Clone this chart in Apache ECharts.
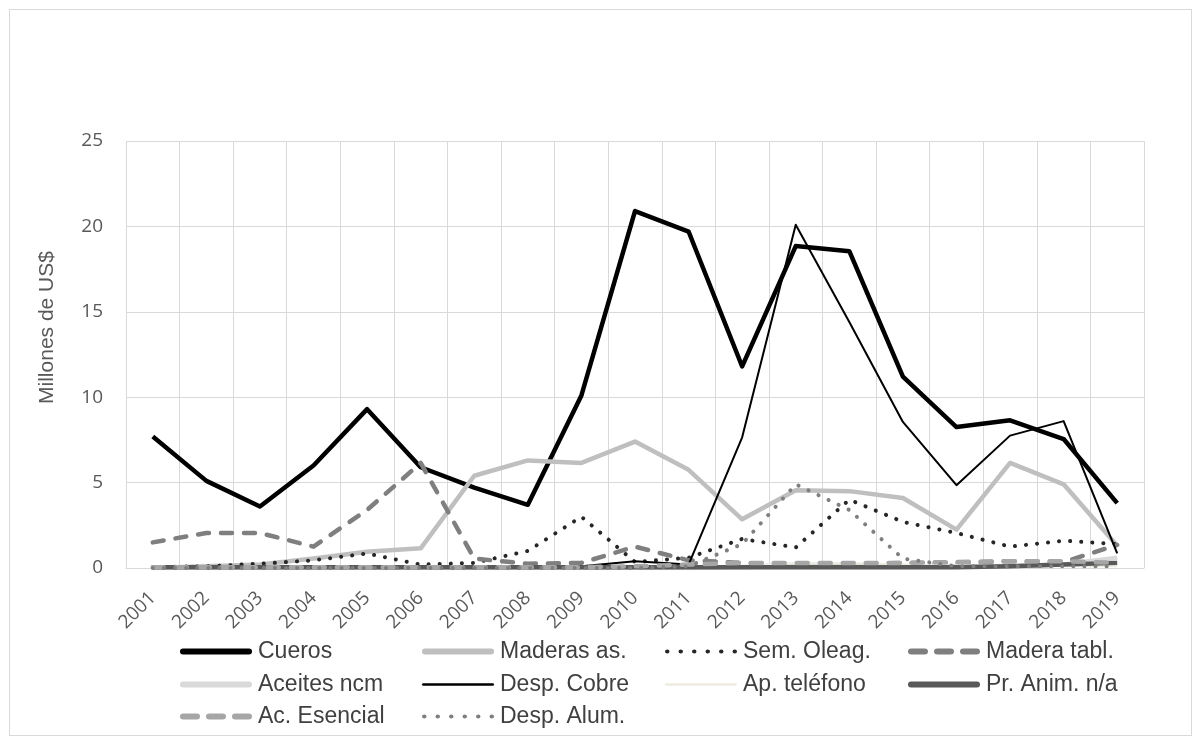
<!DOCTYPE html>
<html>
<head>
<meta charset="utf-8">
<script src="https://cdn.jsdelivr.net/npm/echarts@6/dist/echarts.min.js"></script>
<style>
  html, body { margin: 0; padding: 0; background: #ffffff; }
  #frame { position: absolute; left: 9px; top: 9px; width: 1181px; height: 725px; border: 1px solid #d9d9d9; }
  #chart { position: absolute; left: 0; top: 0; width: 1201px; height: 744px; }
</style>
</head>
<body>
<div id="frame"></div>
<div id="chart"></div>
<script>
// Years on the category axis
const years = ['2001','2002','2003','2004','2005','2006','2007','2008','2009','2010',
               '2011','2012','2013','2014','2015','2016','2017','2018','2019'];

// Export values per product, millions of US$
const cueros      = [7.7, 5.1, 3.6, 6.0, 9.3, 5.9, 4.7, 3.7, 10.1, 20.9, 19.7, 11.8, 18.85, 18.55, 11.2, 8.25, 8.65, 7.55, 3.8];
const maderasAs   = [0.0, 0.1, 0.2, 0.55, 0.95, 1.15, 5.4, 6.3, 6.15, 7.4, 5.75, 2.85, 4.55, 4.5, 4.1, 2.25, 6.15, 4.9, 1.3];
const semOleag    = [0.05, 0.1, 0.25, 0.45, 0.85, 0.2, 0.3, 1.0, 3.0, 0.35, 0.6, 1.7, 1.2, 4.0, 2.7, 2.05, 1.25, 1.6, 1.4];
const maderaTabl  = [1.5, 2.05, 2.05, 1.25, 3.4, 6.15, 0.55, 0.25, 0.3, 1.25, 0.45, 0.3, 0.2, 0.2, 0.3, 0.3, 0.4, 0.35, 1.35];
const aceitesNcm  = [0.0, 0.0, 0.0, 0.0, 0.0, 0.0, 0.0, 0.0, 0.0, 0.0, 0.0, 0.05, 0.1, 0.1, 0.1, 0.1, 0.1, 0.2, 0.6];
const despCobre   = [0.0, 0.0, 0.0, 0.0, 0.0, 0.0, 0.0, 0.0, 0.1, 0.4, 0.2, 7.65, 20.1, 14.4, 8.55, 4.85, 7.75, 8.6, 0.85];
const apTelefono  = [0.0, 0.0, 0.0, 0.0, 0.0, 0.0, 0.0, 0.0, 0.0, 0.0, 0.0, 0.15, 0.3, 0.3, 0.2, 0.1, 0.1, 0.1, 0.1];
const prAnim      = [0.05, 0.05, 0.05, 0.05, 0.05, 0.05, 0.05, 0.05, 0.05, 0.05, 0.05, 0.05, 0.05, 0.05, 0.05, 0.05, 0.1, 0.2, 0.3];
const acEsencial  = [0.05, 0.05, 0.05, 0.05, 0.05, 0.05, 0.05, 0.05, 0.05, 0.1, 0.2, 0.3, 0.3, 0.3, 0.3, 0.35, 0.4, 0.4, 0.3];
const despAlum    = [0.0, 0.0, 0.0, 0.0, 0.0, 0.0, 0.0, 0.0, 0.0, 0.0, 0.1, 1.4, 4.9, 3.4, 0.55, 0.1, 0.1, 0.1, 0.1];

// Value axis ticks
const yTicks = [0, 5, 10, 15, 20, 25];

// Legend icon shapes (drawn in a 70 x 6 box, or 70 x 2.5 for hairlines)
function roundBar(w, h) {
  const r = h / 2;
  return `path://M${r},0 H${w - r} A${r},${r} 0 0 1 ${w - r},${h} H${r} A${r},${r} 0 0 1 ${r},0 Z`;
}
function dashes(w, h, n) {
  const seg = w / (n + (n - 1) * 0.3), gap = seg * 0.3, r = h / 2;
  let p = '';
  for (let i = 0; i < n; i++) {
    const x0 = i * (seg + gap), x1 = x0 + seg;
    p += `M${x0 + r},0 H${x1 - r} A${r},${r} 0 0 1 ${x1 - r},${h} H${x0 + r} A${r},${r} 0 0 1 ${x0 + r},0 Z `;
  }
  return 'path://' + p;
}
function dots(w, h, n) {
  const r = h / 2, step = (w - h) / (n - 1);
  let p = '';
  for (let i = 0; i < n; i++) {
    const cx = r + i * step;
    p += `M${cx - r},${r} A${r},${r} 0 1 0 ${cx + r},${r} A${r},${r} 0 1 0 ${cx - r},${r} Z `;
  }
  return 'path://' + p;
}

// Series styling: name, data, colour, width, dash type, legend icon
const seriesDefs = [
  { name: 'Cueros',        data: cueros,     color: '#000000', width: 4.5, type: 'solid',  icon: roundBar(70, 6), ih: 6 },
  { name: 'Maderas as.',   data: maderasAs,  color: '#bfbfbf', width: 4.5, type: 'solid',  icon: roundBar(70, 6), ih: 6 },
  { name: 'Sem. Oleag.',   data: semOleag,   color: '#262626', width: 4,   type: [0.1, 11], cap: 'round', icon: dots(64, 4, 6), ih: 4 },
  { name: 'Madera tabl.',  data: maderaTabl, color: '#7f7f7f', width: 4.5, type: [11, 12],  cap: 'round', icon: dashes(64, 6, 3), ih: 6 },
  { name: 'Aceites ncm',   data: aceitesNcm, color: '#d9d9d9', width: 4.5, type: 'solid',  icon: roundBar(70, 6), ih: 6 },
  { name: 'Desp. Cobre',   data: despCobre,  color: '#000000', width: 2,   type: 'solid',  icon: roundBar(70, 2.5), ih: 2.5 },
  { name: 'Ap. teléfono',  data: apTelefono, color: '#eeece1', width: 2,   type: 'solid',  icon: roundBar(70, 2.5), ih: 2.5 },
  { name: 'Pr. Anim. n/a', data: prAnim,     color: '#595959', width: 4.5, type: 'solid',  icon: roundBar(70, 6), ih: 6 },
  { name: 'Ac. Esencial',  data: acEsencial, color: '#a6a6a6', width: 4.5, type: [11, 12],  cap: 'round', icon: dashes(64, 6, 3), ih: 6 },
  { name: 'Desp. Alum.',   data: despAlum,   color: '#7f7f7f', width: 4,   type: [0.1, 11], cap: 'round', icon: dots(64, 4, 6), ih: 4 }
];

// Legend grid: four columns, three rows (row centre lines)
const legendCols = [180, 422, 665, 908];
const legendRows = [653, 686, 718];

const chart = echarts.init(document.getElementById('chart'), null, { renderer: 'canvas' });

const legends = seriesDefs.map((s, i) => ({
  show: true,
  orient: 'horizontal',
  data: [s.name],
  left: legendCols[i % 4],
  top: legendRows[Math.floor(i / 4)] - 13,
  padding: 0,
  itemWidth: 72,
  itemHeight: s.ih,
  itemGap: 4,
  icon: s.icon,
  symbolKeepAspect: false,
  selectedMode: false,
  textStyle: { fontFamily: 'Liberation Sans', fontSize: 23, color: '#404040', padding: [0, 0, 0, 1] }
}));

chart.setOption({
  animation: false,
  legend: legends,
  grid: { left: 126, right: 57, top: 141, bottom: 176, containLabel: false },
  xAxis: {
    type: 'category',
    data: years,
    boundaryGap: true,
    axisLine: { show: true, lineStyle: { color: '#d9d9d9', width: 1 } },
    axisTick: { show: false },
    splitLine: { show: true, interval: 0, lineStyle: { color: '#d9d9d9', width: 1 } },
    axisLabel: {
      interval: 0, rotate: 45, margin: 27,
      fontFamily: 'Open Sans', fontSize: 19, color: '#595959'
    }
  },
  yAxis: {
    type: 'value',
    min: yTicks[0],
    max: yTicks[yTicks.length - 1],
    interval: yTicks[1] - yTicks[0],
    name: 'Millones de US$',
    nameLocation: 'middle',
    nameGap: 68,
    nameTextStyle: { fontFamily: 'Liberation Sans', fontSize: 21, color: '#595959', padding: [0, 0, 0, 54] },
    axisLine: { show: false },
    axisTick: { show: false },
    splitLine: { lineStyle: { color: '#d9d9d9', width: 1 } },
    axisLabel: { margin: 23, fontFamily: 'Open Sans', fontSize: 19, color: '#595959' }
  },
  series: seriesDefs.map(s => ({
    name: s.name,
    type: 'line',
    data: s.data,
    showSymbol: false,
    symbol: 'none',
    smooth: false,
    itemStyle: { color: s.color },
    lineStyle: { color: s.color, width: s.width, type: s.type, cap: s.cap || 'butt', join: 'round' },
    emphasis: { disabled: true }
  }))
});
</script>
</body>
</html>
